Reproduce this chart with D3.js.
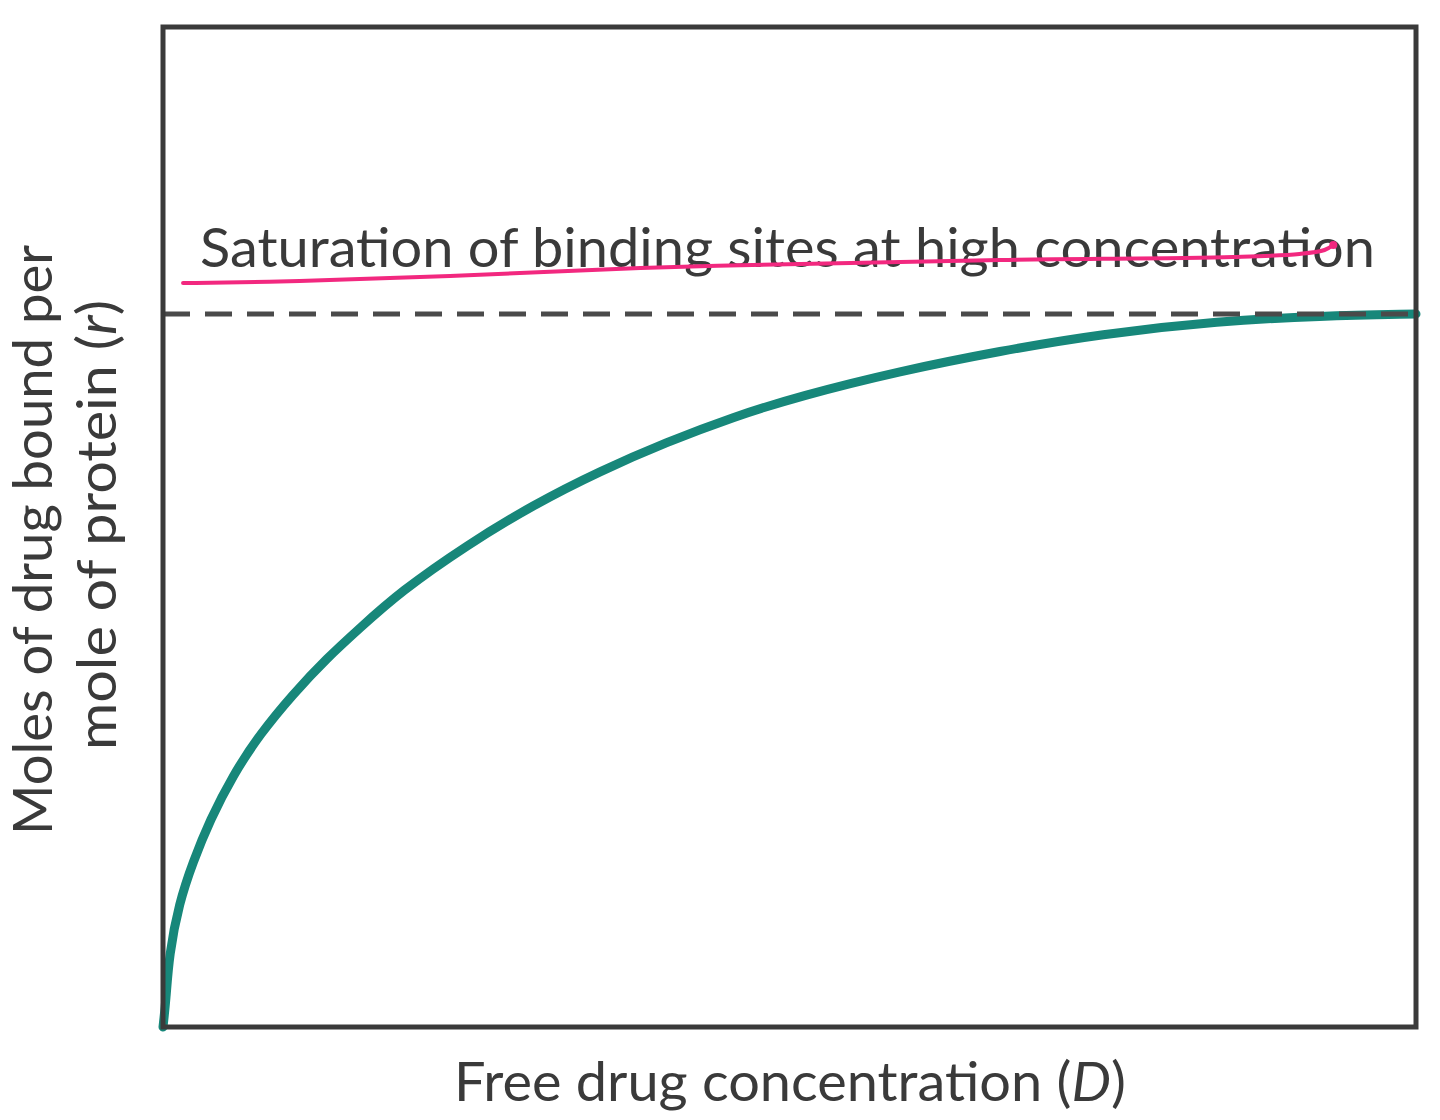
<!DOCTYPE html>
<html>
<head>
<meta charset="utf-8">
<script src="https://cdn.jsdelivr.net/npm/d3@7"></script>
<style>
  html, body { margin: 0; padding: 0; background: #ffffff; }
  svg { display: block; }
</style>
</head>
<body>
<svg id="chart" width="1440" height="1120"></svg>
<script>
// ---- data (arbitrary units, no tick labels) ----
const freeDrug   = [0, 0.24, 0.48, 1.28, 2.39, 3.75, 5.59, 7.74, 10.38, 13.09, 15.72, 18.91, 24.26, 29.53, 34.88, 40.22, 45.49, 50.84, 58.82, 66.8, 74.78, 84.36, 92.34, 100];
const bound      = [0, 2.7, 7.2, 12.4, 16.5, 20.7, 25.2, 29.3, 33.3, 36.9, 39.9, 43.5, 48.2, 52.2, 55.6, 58.5, 61.0, 63.1, 65.6, 67.6, 69.3, 70.6, 71.1, 71.3];
const saturation = [71.3];
const underlineX = [1.6, 2.6, 10.9, 22.9, 38.1, 50.9, 66.8, 85.4, 90.7, 92.7, 93.4];
const underlineY = [74.4, 74.4, 74.6, 75.1, 75.9, 76.3, 76.7, 77.0, 77.3, 77.7, 78.2];
const annotationText = ["Saturation of binding sites at high concentration"];
const xTitle = ["Free drug concentration (", "D", ")"];
const yTitle = ["Moles of drug bound per", "mole of protein (", "r", ")"];

// ---- layout ----
const svg = d3.select("#chart");
const plot = { left: 163, top: 27, right: 1416, bottom: 1027 };
const x = d3.scaleLinear().domain([0, 100]).range([plot.left, plot.right]);
const y = d3.scaleLinear().domain([0, 100]).range([plot.bottom, plot.top]);
const FONT = "Lato, 'Noto Sans', sans-serif";
const TEXT = "#3a3a3a";

// curve
const curveData = freeDrug.map((d, i) => ({ d, r: bound[i] }));
svg.append("path")
  .datum(curveData)
  .attr("fill", "none")
  .attr("stroke", "#17877a")
  .attr("stroke-width", 9)
  .attr("stroke-linecap", "round")
  .attr("d", d3.line().x(p => x(p.d)).y(p => y(p.r)).curve(d3.curveBasis));

// saturation dashed line
svg.selectAll("line.sat")
  .data(saturation)
  .join("line")
  .attr("class", "sat")
  .attr("x1", x(0)).attr("x2", x(100))
  .attr("y1", d => y(d)).attr("y2", d => y(d))
  .attr("stroke", "#4a4a4a")
  .attr("stroke-width", 5)
  .attr("stroke-dasharray", "27 15");

// frame (axes box)
svg.append("rect")
  .attr("x", plot.left).attr("y", plot.top)
  .attr("width", plot.right - plot.left).attr("height", plot.bottom - plot.top)
  .attr("fill", "none")
  .attr("stroke", "#3a3a3a")
  .attr("stroke-width", 5);

// annotation text
svg.selectAll("text.ann")
  .data(annotationText)
  .join("text")
  .attr("class", "ann")
  .attr("x", 200).attr("y", 267)
  .attr("font-family", FONT)
  .attr("font-size", 54)
  .attr("fill", TEXT)
  .attr("textLength", 1175)
  .attr("lengthAdjust", "spacingAndGlyphs")
  .text(d => d);

// hand-drawn pink underline
const ul = underlineX.map((v, i) => ({ d: v, r: underlineY[i] }));
svg.append("path")
  .datum(ul)
  .attr("fill", "none")
  .attr("stroke", "#f2287f")
  .attr("stroke-width", 4)
  .attr("stroke-linecap", "round")
  .attr("stroke-linejoin", "round")
  .attr("d", d3.line().x(p => x(p.d)).y(p => y(p.r)).curve(d3.curveCatmullRom));
svg.append("circle")
  .attr("cx", x(underlineX[underlineX.length - 1]))
  .attr("cy", y(underlineY[underlineY.length - 1]))
  .attr("r", 4).attr("fill", "#f2287f");

// x title
const xt = svg.append("text")
  .attr("x", 790).attr("y", 1101)
  .attr("text-anchor", "middle")
  .attr("font-family", FONT)
  .attr("font-size", 54)
  .attr("fill", TEXT)
  .attr("textLength", 672)
  .attr("lengthAdjust", "spacingAndGlyphs");
xt.append("tspan").text(xTitle[0]);
xt.append("tspan").attr("font-style", "italic").text(xTitle[1]);
xt.append("tspan").text(xTitle[2]);

// y title (two lines, rotated)
const yg = svg.append("g").attr("transform", "translate(0,540) rotate(-90)");
yg.append("text")
  .attr("x", 0).attr("y", 52)
  .attr("text-anchor", "middle")
  .attr("font-family", FONT)
  .attr("font-size", 54)
  .attr("fill", TEXT)
  .attr("textLength", 590)
  .attr("lengthAdjust", "spacingAndGlyphs")
  .text(yTitle[0]);
const y2 = yg.append("text")
  .attr("x", 15).attr("y", 116)
  .attr("text-anchor", "middle")
  .attr("font-family", FONT)
  .attr("font-size", 54)
  .attr("fill", TEXT)
  .attr("textLength", 450)
  .attr("lengthAdjust", "spacingAndGlyphs");
y2.append("tspan").text(yTitle[1]);
y2.append("tspan").attr("font-style", "italic").text(yTitle[2]);
y2.append("tspan").text(yTitle[3]);
</script>
</body>
</html>
